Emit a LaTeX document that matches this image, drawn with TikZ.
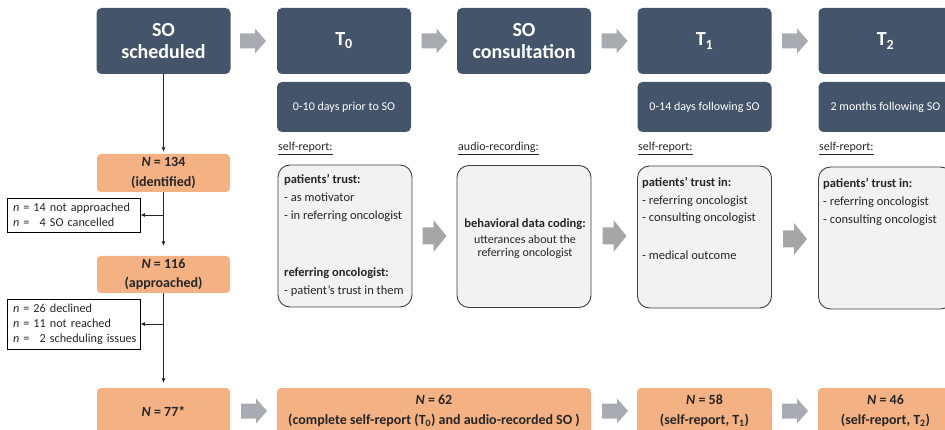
\documentclass[tikz,border=0pt]{standalone}
\usepackage{fontspec}
\setmainfont{Carlito}
\usetikzlibrary{arrows.meta}

\definecolor{navy}{HTML}{44546A}
\definecolor{peach}{HTML}{F4B183}
\definecolor{panel}{HTML}{F2F2F2}
\definecolor{rim}{HTML}{3F3F3F}
\definecolor{flowgray}{HTML}{A8ABB0}
\definecolor{stepgray}{HTML}{A6A6A6}
\definecolor{ink}{HTML}{262626}

\tikzset{
  phase/.style={fill=navy, rounded corners=5pt, text=white, align=center,
    font=\bfseries\fontsize{20}{22}\selectfont, inner sep=0pt,
    minimum width=134pt, minimum height=66pt},
  window/.style={fill=navy, rounded corners=5pt, text=white,
    font=\fontsize{12}{14}\selectfont, inner sep=0pt,
    minimum width=134pt, minimum height=50pt},
  sample/.style={fill=peach, rounded corners=4pt, align=center, text=ink,
    font=\bfseries\fontsize{14}{19.5}\selectfont, inner sep=0pt},
  panelbox/.style={fill=panel, draw=rim, line width=0.9pt, rounded corners=12pt,
    minimum width=134pt, minimum height=142pt, inner sep=0pt},
  exclusion/.style={draw=black, line width=0.7pt, fill=white, align=left, text=ink,
    font=\fontsize{12.2}{15}\selectfont, inner xsep=6pt, inner ysep=0pt,
    text width=121pt, minimum width=133pt},
  method/.style={anchor=base west, inner sep=0pt, text=ink,
    font=\fontsize{12}{14}\selectfont},
  item/.style={anchor=base west, inner sep=0pt, text=ink,
    font=\fontsize{12.5}{15}\selectfont},
  itemhead/.style={item, font=\bfseries\fontsize{12.5}{15}\selectfont},
  flow/.style={draw=ink, line width=0.8pt, -{Latex[length=4.5pt,width=4pt]}},
  smallstep/.pic={\fill[pic actions] (-13,-7.5) -- (2,-7.5) -- (2,-12.5) -- (13,0)
    -- (2,12.5) -- (2,7.5) -- (-13,7.5) -- cycle;},
  bigstep/.pic={\fill[pic actions] (-12,-8.5) -- (-1,-8.5) -- (-1,-16) -- (12,0)
    -- (-1,16) -- (-1,8.5) -- (-12,8.5) -- cycle;},
}

\begin{document}
\begin{tikzpicture}[x=1pt, y=-1pt]
  \useasboundingbox (0,0) rectangle (945,430);

  % study phases
  \node[phase] (sched) at (163.5,41) {SO\\scheduled};
  \node[phase] (t0)    at (344,41)   {T\textsubscript{0}};
  \node[phase] (cons)  at (524,41)   {SO\\consultation};
  \node[phase] (t1)    at (704.5,41) {T\textsubscript{1}};
  \node[phase] (t2)    at (885.5,41) {T\textsubscript{2}};

  \pic[fill=flowgray] at (253,41)   {smallstep};
  \pic[fill=flowgray] at (434.5,41) {smallstep};
  \pic[fill=flowgray] at (614.5,41) {smallstep};
  \pic[fill=flowgray] at (795,41)   {smallstep};

  % time windows
  \node[window] (w0) at (344,107)   {0-10 days prior to SO};
  \node[window] (w1) at (704.5,107) {0-14 days following SO};
  \node[window] (w2) at (885.5,107) {2 months following SO};

  % data sources
  \node[method] (m0) at (278,151) {\underline{self-report:}};
  \node[method] (mc) at (458,151) {\underline{audio-recording:}};
  \node[method] (m1) at (638,151) {\underline{self-report:}};
  \node[method] (m2) at (819,151) {\underline{self-report:}};

  % measures
  \node[panelbox] (p0) at (345,236)   {};
  \node[panelbox] (pc) at (524,236.5) {};
  \node[panelbox] (p1) at (704.5,237) {};
  \node[panelbox] (p2) at (885.5,238) {};

  \pic[fill=stepgray] at (434.5,236) {bigstep};
  \pic[fill=stepgray] at (614.5,236) {bigstep};
  \pic[fill=stepgray] at (795,239)   {bigstep};

  \node[itemhead] (p0a) at (284,184) {patients’ trust:};
  \node[item]     (p0b) at (284,202) {- as motivator};
  \node[item]     (p0c) at (284,220) {- in referring oncologist};
  \node[itemhead] (p0d) at (284,277) {referring oncologist:};
  \node[item]     (p0e) at (284,295) {- patient’s trust in them};

  \node[itemhead, anchor=base] (pca) at (525,228)   {behavioral data coding:};
  \node[item, anchor=base, font=\fontsize{12}{14}\selectfont] (pcb) at (525,243.5) {utterances about the};
  \node[item, anchor=base, font=\fontsize{12}{14}\selectfont] (pcc) at (525,256.5) {referring oncologist};

  \node[itemhead] (p1a) at (642,187) {patients’ trust in:};
  \node[item]     (p1b) at (642,205) {- referring oncologist};
  \node[item]     (p1c) at (642,222) {- consulting oncologist};
  \node[item]     (p1d) at (642,260) {- medical outcome};

  \node[itemhead] (p2a) at (823,188) {patients’ trust in:};
  \node[item]     (p2b) at (823,206) {- referring oncologist};
  \node[item]     (p2c) at (823,224) {- consulting oncologist};

  % sample flow
  \node[sample, minimum width=133pt, minimum height=38pt] (n134) at (163.5,173)
    {\textit{N} = 134\\(identified)};
  \node[sample, minimum width=133pt, minimum height=37pt] (n116) at (163.5,274.5)
    {\textit{N} = 116\\(approached)};
  \node[sample, minimum width=133pt, minimum height=46pt] (n77) at (163.5,411)
    {\textit{N} = 77*};
  \node[sample, minimum width=314pt, minimum height=46pt] (n62) at (434,411)
    {\textit{N} = 62\\(complete self-report (T\textsubscript{0}) and audio-recorded SO )};
  \node[sample, minimum width=135pt, minimum height=46pt] (n58) at (704.5,411)
    {\textit{N} = 58\\(self-report, T\textsubscript{1})};
  \node[sample, minimum width=135pt, minimum height=46pt] (n46) at (885.5,411)
    {\textit{N} = 46\\(self-report, T\textsubscript{2})};

  \pic[fill=flowgray] at (254,411)   {smallstep};
  \pic[fill=flowgray] at (615,411)   {smallstep};
  \pic[fill=flowgray] at (795,411)   {smallstep};

  % exclusions
  \node[exclusion, minimum height=34pt] (ex1) at (73.5,215)
    {\mbox{\textit{n} = 14 not approached}\\\mbox{\textit{n} = \phantom{1}4 SO cancelled}};
  \node[exclusion, minimum height=50pt] (ex2) at (73.5,324)
    {\mbox{\textit{n} = 26 declined}\\\mbox{\textit{n} = 11 not reached}\\\mbox{\textit{n} = \phantom{1}2 scheduling issues}};

  \coordinate (split1) at (n134.south |- ex1.east);
  \coordinate (split2) at (n116.south |- ex2.east);

  \draw[flow, shorten >=2pt]  (sched.south) -- (n134.north);
  \draw[flow, shorten >=10pt] (n134.south)  -- (n116.north);
  \draw[flow, shorten >=5pt]  (n116.south)  -- (n77.north);
  \draw[flow] (split1) -- (ex1.east);
  \draw[flow] (split2) -- (ex2.east);
\end{tikzpicture}
\end{document}
